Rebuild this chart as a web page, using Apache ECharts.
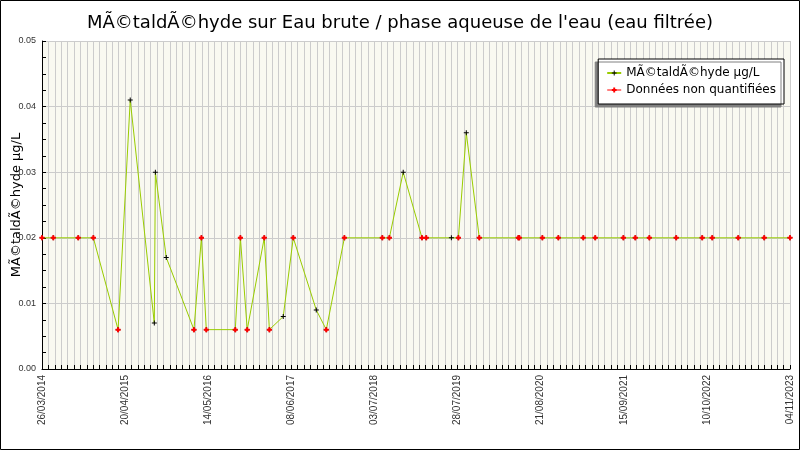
<!DOCTYPE html>
<html>
<head>
<meta charset="utf-8">
<script src="https://cdn.jsdelivr.net/npm/echarts@6/dist/echarts.min.js"></script>
<style>
  html, body { margin: 0; padding: 0; background: #fff; }
  #chart { width: 800px; height: 450px; }
</style>
</head>
<body>
<div id="chart"></div>
<script>
// dates of the samples (dd/mm/yyyy)
var sampleDates = ['26/03/2014','18/05/2014','12/09/2014','22/11/2014','18/03/2015','14/05/2015',
  '04/09/2015','09/09/2015','30/10/2015','08/03/2016','12/04/2016','05/05/2016','18/09/2016',
  '12/10/2016','13/11/2016','01/02/2017','25/02/2017','01/05/2017','17/06/2017','03/10/2017',
  '19/11/2017','12/02/2018','09/08/2018','11/09/2018','15/11/2018','11/02/2019','03/03/2019',
  '29/06/2019','01/08/2019','07/09/2019','07/11/2019','08/05/2020','13/05/2020','29/08/2020',
  '12/11/2020','09/03/2021','04/05/2021','13/09/2021','08/11/2021','13/01/2022','19/05/2022',
  '18/09/2022','04/11/2022','06/03/2023','06/07/2023','04/11/2023'];
// measured value in µg/L
var sampleValues = [0.02,0.02,0.02,0.02,0.006,0.041,
  0.007,0.03,0.017,0.006,0.02,0.006,0.006,
  0.02,0.006,0.02,0.006,0.008,0.02,0.009,
  0.006,0.02,0.02,0.02,0.03,0.02,0.02,
  0.02,0.02,0.036,0.02,0.02,0.02,0.02,
  0.02,0.02,0.02,0.02,0.02,0.02,0.02,
  0.02,0.02,0.02,0.02,0.02];
// 1 = donnée non quantifiée
var nonQuantified = [1,1,1,1,1,0,
  0,0,0,1,1,1,1,
  1,1,1,1,0,1,0,
  1,1,1,1,0,1,1,
  0,1,0,1,1,1,1,
  1,1,1,1,1,1,1,
  1,1,1,1,1];
// labels shown on the date axis
var xTickLabels = ['26/03/2014','20/04/2015','14/05/2016','08/06/2017','03/07/2018',
  '28/07/2019','21/08/2020','15/09/2021','10/10/2022','04/11/2023'];

var labelStep = 390;   // days between two labels
var gridStep = 30;     // days between grid lines

function toDay(s) {
  var p = s.split('/');
  var t = Date.UTC(+p[2], +p[1] - 1, +p[0]);
  var p0 = xTickLabels[0].split('/');
  var t0 = Date.UTC(+p0[2], +p0[1] - 1, +p0[0]);
  return Math.round((t - t0) / 86400000);
}

var mainData = [];
var nqData = [];
for (var i = 0; i < sampleDates.length; i++) {
  var d = toDay(sampleDates[i]);
  mainData.push([d, sampleValues[i]]);
  if (nonQuantified[i]) nqData.push([d, sampleValues[i]]);
}

var plusThin = 'path://M2,0H3V2H5V3H3V5H2V3H0V2H2Z';
var plusThick = 'path://M1.5,0H3.5V1.5H5V3.5H3.5V5H1.5V3.5H0V1.5H1.5Z';

var chart = echarts.init(document.getElementById('chart'));
chart.setOption({
  animation: false,
  backgroundColor: '#ffffff',
  title: {
    text: "MÃ©taldÃ©hyde sur Eau brute / phase aqueuse de l'eau (eau filtrée)",
    left: 'center',
    top: 9,
    textStyle: { fontFamily: 'DejaVu Sans', fontSize: 18, fontWeight: 'normal', color: '#000' }
  },
  legend: {
    orient: 'vertical',
    right: 16,
    top: 59,
    padding: [8, 8, 8, 8],
    itemGap: 5,
    itemWidth: 14,
    itemHeight: 6,
    backgroundColor: '#ffffff',
    borderColor: '#000000',
    borderWidth: 1,
    borderRadius: 0,
    shadowColor: '#808080',
    shadowBlur: 0,
    shadowOffsetX: -3,
    shadowOffsetY: 3,
    textStyle: { fontFamily: 'DejaVu Sans', fontSize: 12, color: '#000', lineHeight: 12 },
    data: [
      { name: 'MÃ©taldÃ©hyde µg/L' },
      { name: 'Données non quantifiées', lineStyle: { color: '#ff0000', width: 1, opacity: 1 } }
    ]
  },
  grid: {
    left: 42, right: 10, top: 41, bottom: 81,
    outerBoundsMode: 'none',
    containLabel: false,
    show: true,
    backgroundColor: '#f9f9f1',
    borderWidth: 0
  },
  xAxis: {
    type: 'value',
    min: 0,
    max: labelStep * (xTickLabels.length - 1),
    interval: gridStep,
    axisLine: { lineStyle: { color: '#000', width: 1 } },
    axisTick: { inside: true, length: 4, lineStyle: { color: '#000' } },
    splitLine: { show: true, lineStyle: { color: '#cccccc', width: 1 } },
    axisLabel: {
      rotate: 90,
      fontFamily: 'Liberation Sans',
      fontSize: 10,
      color: '#333',
      margin: 6,
      formatter: function (v) {
        if (v % labelStep !== 0) return '';
        return xTickLabels[v / labelStep] || '';
      }
    }
  },
  yAxis: {
    type: 'value',
    min: 0,
    max: 0.05,
    interval: 0.01,
    name: 'MÃ©taldÃ©hyde µg/L',
    nameLocation: 'middle',
    nameGap: 19,
    nameMoveOverlap: false,
    nameTextStyle: { fontFamily: 'DejaVu Sans', fontSize: 13, color: '#000' },
    axisLine: { show: true, lineStyle: { color: '#000', width: 1 } },
    axisTick: { show: true, inside: true, length: 4, lineStyle: { color: '#000' } },
    minorTick: { show: true, splitNumber: 4, length: 4, lineStyle: { color: '#000' } },
    splitLine: { show: true, lineStyle: { color: '#cccccc', width: 1 } },
    axisLabel: {
      fontFamily: 'Liberation Sans',
      fontSize: 9,
      color: '#333',
      margin: 6,
      formatter: function (v) { return v.toFixed(2); }
    }
  },
  series: [
    {
      name: 'MÃ©taldÃ©hyde µg/L',
      type: 'line',
      data: mainData,
      symbol: plusThin,
      symbolSize: 5,
      itemStyle: { color: '#000000' },
      lineStyle: { color: '#99cc00', width: 1 },
      z: 2
    },
    {
      name: 'Données non quantifiées',
      type: 'line',
      data: nqData,
      symbol: plusThick,
      symbolSize: 5,
      itemStyle: { color: '#ff0000' },
      lineStyle: { width: 0, opacity: 0 },
      z: 3
    }
  ],
  graphic: [{
    type: 'rect',
    shape: { x: 0.5, y: 0.5, width: 799, height: 449 },
    style: { fill: 'none', stroke: '#000', lineWidth: 1 },
    silent: true
  }]
});
</script>
</body>
</html>
